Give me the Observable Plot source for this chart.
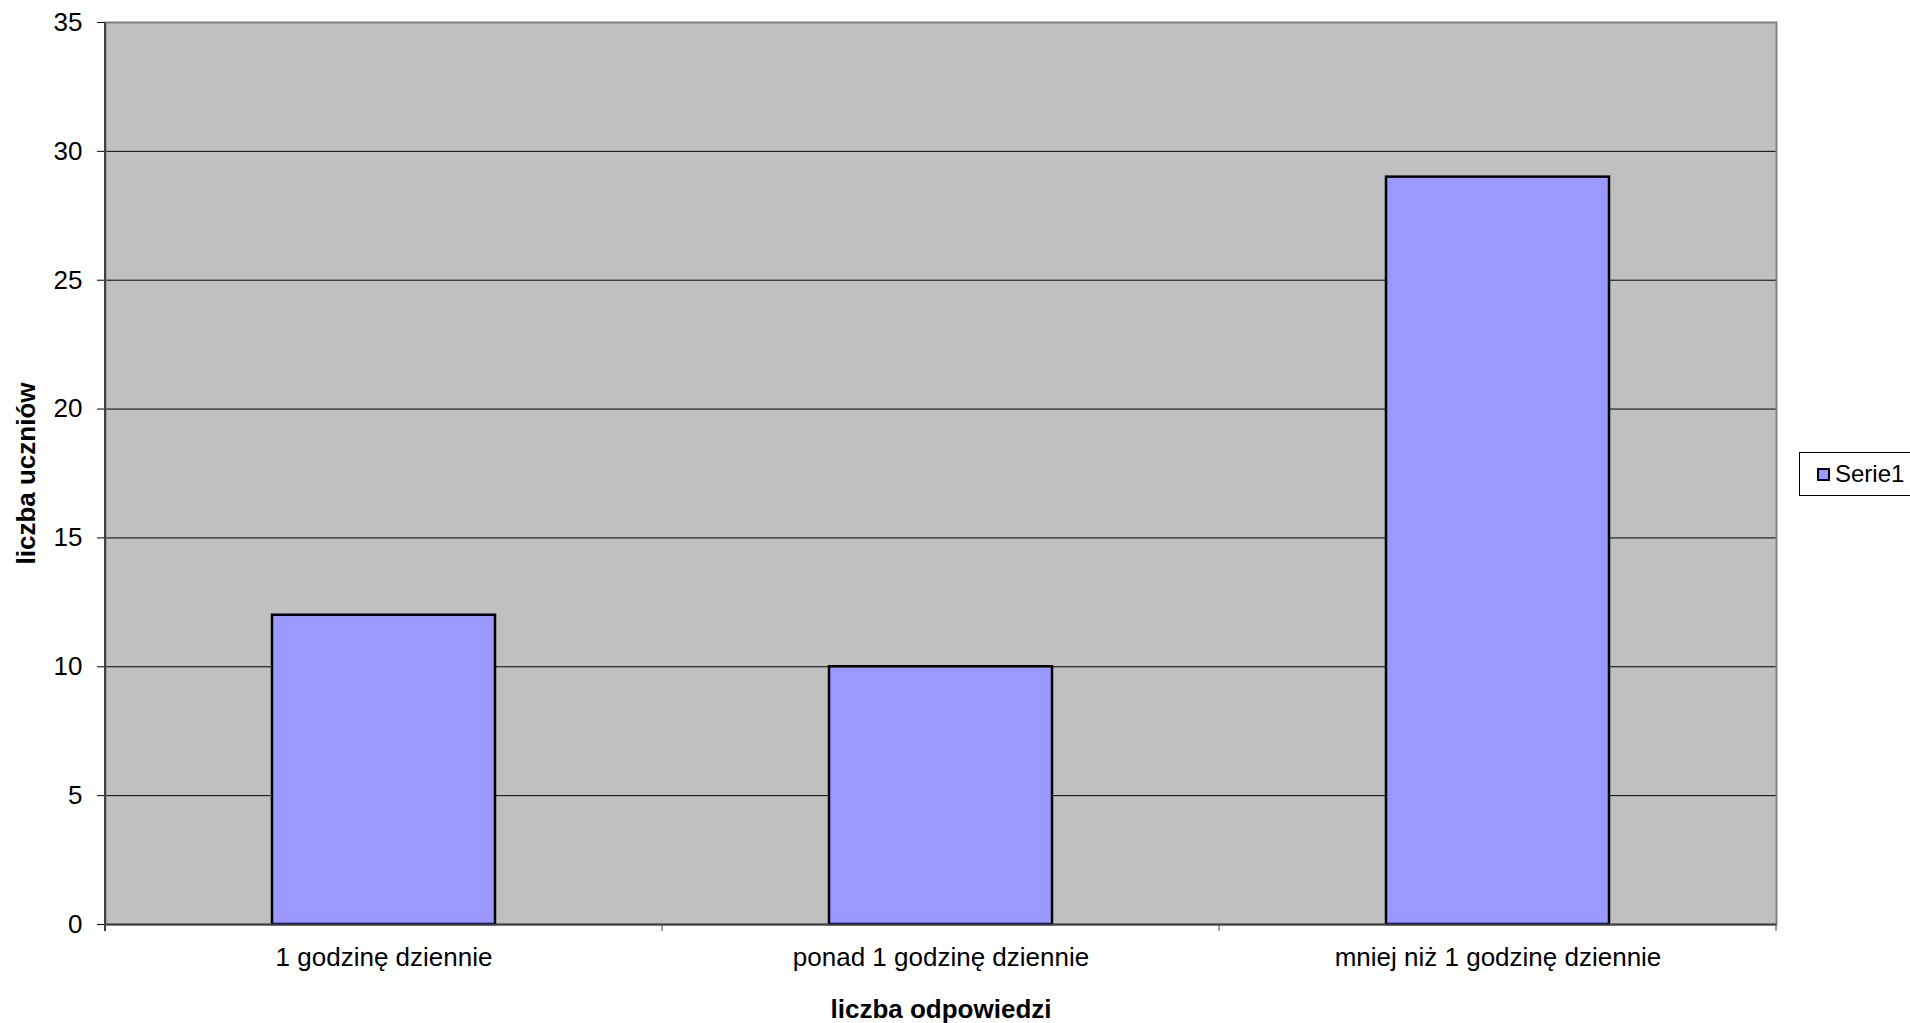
<!DOCTYPE html>
<html>
<head>
<meta charset="utf-8">
<script src="https://cdn.jsdelivr.net/npm/d3@7"></script>
<script src="https://cdn.jsdelivr.net/npm/@observablehq/plot@0.6"></script>
<style>
  html, body { margin: 0; padding: 0; background: #fff; }
  #wrap { position: relative; width: 1910px; height: 1023px; overflow: hidden; font-family: "Liberation Sans", Arial, sans-serif; }
  #legend { position: absolute; left: 1799px; top: 452px; width: 130px; height: 44px; border: 1px solid #000; background: #fff; box-sizing: border-box; display: flex; align-items: center; font-size: 24px; color: #000; }
  #legend .sw { width: 9px; height: 9px; border: 2px solid #000; background: #9999FF; margin-left: 17px; margin-right: 5px; }
</style>
</head>
<body>
<div id="wrap"><div id="legend"></div></div>
<script>
const categories = ["1 godzinę dziennie", "ponad 1 godzinę dziennie", "mniej niż 1 godzinę dziennie"];
const values = [12, 10, 29];
const yTicks = [0, 5, 10, 15, 20, 25, 30, 35];
const seriesName = "Serie1";
const xTitle = "liczba odpowiedzi";
const yTitle = "liczba uczniów";

const table = categories.map((c, i) => ({category: c, value: values[i]}));
const gridTicks = yTicks.filter(t => t > 0 && t < 35);

const chart = Plot.plot({
  width: 1910,
  height: 1023,
  marginLeft: 105,
  marginRight: 134,
  marginTop: 22,
  marginBottom: 99,
  style: {fontFamily: "'Liberation Sans', Arial, sans-serif", fontSize: "26px", color: "#000", background: "#fff"},
  x: {domain: categories, paddingInner: 0.6, paddingOuter: 0.3},
  y: {domain: [0, 35]},
  marks: [
    Plot.frame({fill: "#C0C0C0", stroke: "none"}),
    Plot.ruleY(gridTicks, {stroke: "#000", strokeWidth: 1}),
    Plot.frame({stroke: "#808080", strokeWidth: 2, fill: "none"}),
    Plot.barY(table, {x: "category", y: "value", fill: "#9999FF", stroke: "#000", strokeWidth: 2.5}),
    Plot.ruleY([0], {stroke: "#404040", strokeWidth: 2}),
    Plot.axisY({ticks: yTicks, tickSize: 8, tickPadding: 15, fontSize: 26, stroke: "#000",
      label: yTitle, labelAnchor: "center", labelArrow: "none", labelOffset: 89}),
    Plot.axisX({tickSize: 0, tickPadding: 23, fontSize: 26,
      label: xTitle, labelAnchor: "center", labelArrow: "none", labelOffset: 93})
  ]
});

// bold axis titles
d3.select(chart).selectAll("[aria-label='y-axis label'] text, [aria-label='x-axis label'] text")
  .attr("font-weight", "bold").attr("font-size", 26);

// category boundary tick marks below the axis, from the band scale
const xs = chart.scale("x");
const ys = chart.scale("y");
const bounds = categories.map(c => xs.apply(c) + xs.bandwidth / 2 - xs.step / 2);
bounds.push(xs.apply(categories[categories.length - 1]) + xs.bandwidth / 2 + xs.step / 2);
const y0 = ys.apply(0);
d3.select(chart).append("g").selectAll("line").data(bounds).join("line")
  .attr("x1", d => d).attr("x2", d => d)
  .attr("y1", y0).attr("y2", y0 + 7)
  .attr("stroke", "#404040").attr("stroke-width", 1);
// left axis line
d3.select(chart).append("line")
  .attr("x1", bounds[0]).attr("x2", bounds[0])
  .attr("y1", ys.apply(35)).attr("y2", y0 + 7)
  .attr("stroke", "#404040").attr("stroke-width", 2);

document.getElementById("wrap").prepend(chart);
chart.style.position = "absolute";
chart.style.left = "0"; chart.style.top = "0";

const lg = document.getElementById("legend");
lg.innerHTML = `<div class="sw"></div><span>${seriesName}</span>`;
</script>
</body>
</html>
